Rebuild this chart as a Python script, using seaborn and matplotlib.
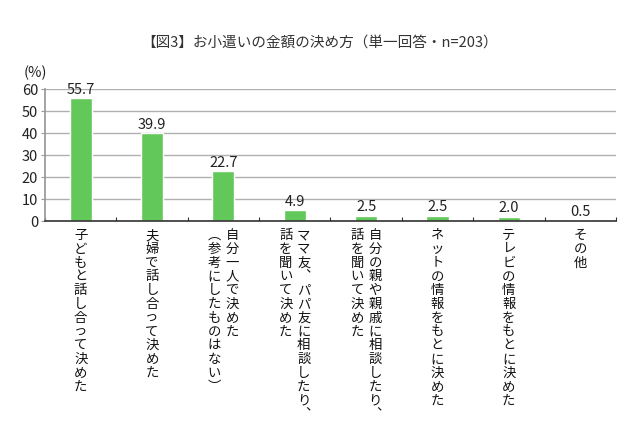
"""
Pocket money survey: how the amount was decided (single answer, n=203).
Bar chart with vertical (tategaki) category labels.
"""

import pandas as pd
import matplotlib.pyplot as plt
import seaborn as sns

#
#  Chart data
#

categories = [
    "子どもと話し合って決めた",
    "夫婦で話し合って決めた",
    "自分一人で決めた\n（参考にしたものはない）",
    "ママ友、パパ友に相談したり、\n話を聞いて決めた",
    "自分の親や親戚に相談したり、\n話を聞いて決めた",
    "ネットの情報をもとに決めた",
    "テレビの情報をもとに決めた",
    "その他",
]
values = [55.7, 39.9, 22.7, 4.9, 2.5, 2.5, 2.0, 0.5]
yticks = [0, 10, 20, 30, 40, 50, 60]

title = "【図3】お小遣いの金額の決め方（単一回答・n=203）"

data = pd.DataFrame({"cat": categories, "pct": values})

sns.set_theme(style="white")
plt.rcParams['font.family'] = ['Noto Sans CJK JP', 'DejaVu Sans']

fig = plt.figure(figsize=(6.4, 4.26), dpi=100)
ax = fig.add_axes([0.0703, 0.481, 0.892, 0.310])

sns.barplot(data=data, x="cat", y="pct", color="#63c85a", saturation=1,
            width=0.31, ax=ax)

ax.set_ylim(0, 60)
ax.set_xlim(-0.5, len(categories) - 0.5)
ax.set_yticks(yticks)
ax.yaxis.grid(True, color="#b0b0b0", linewidth=1.0)
ax.set_axisbelow(True)
ax.set_xlabel("")
ax.set_ylabel("")

for side in ["top", "right"]:
    ax.spines[side].set_visible(False)
ax.spines["left"].set_color("#999999")
ax.spines["bottom"].set_color("#333333")
ax.spines["bottom"].set_linewidth(1.2)

ax.tick_params(axis="y", labelsize=10.5, length=3, width=0.8,
               color="#999999", labelcolor="#222222", pad=2, left=True)

#
#  x ticks at the category boundaries, pointing up into the plot
#

ax.set_xticks([])
ax.set_xticks([i - 0.5 for i in range(len(categories) + 1)], minor=True)
ax.tick_params(axis="x", which="minor", direction="in", length=3,
               width=0.8, color="#333333", bottom=True)

#
#  Value labels above each bar
#

for i, v in enumerate(values):
    ax.annotate(f"{v:.1f}", xy=(i, v), xytext=(0, 1),
                textcoords="offset points", ha="center", va="bottom",
                fontsize=10.5, color="#222222")

#
#  Vertical category labels, columns running right to left
#

vert = {"、": "︑", "（": "︵", "）": "︶", "(": "︵", ")": "︶"}

for i, cat in enumerate(categories):
    cols = cat.split("\n")
    n = len(cols)
    for j, col in enumerate(cols):
        stacked = "\n".join(vert.get(c, c) for c in col)
        dx = ((n - 1) / 2 - j) * 13
        ax.annotate(stacked, xy=(i, 0), xycoords=("data", "axes fraction"),
                    xytext=(dx, -5), textcoords="offset points",
                    ha="center", va="top", fontsize=9.6, linespacing=0.98,
                    color="#111111")

fig.text(0.055, 0.83, "(%)", fontsize=10.5, ha="center", va="center",
         color="#222222")
fig.text(0.5, 0.899, title, fontsize=10.5, ha="center", va="center",
         color="#333333")

fig.savefig("out.png", dpi=100)
